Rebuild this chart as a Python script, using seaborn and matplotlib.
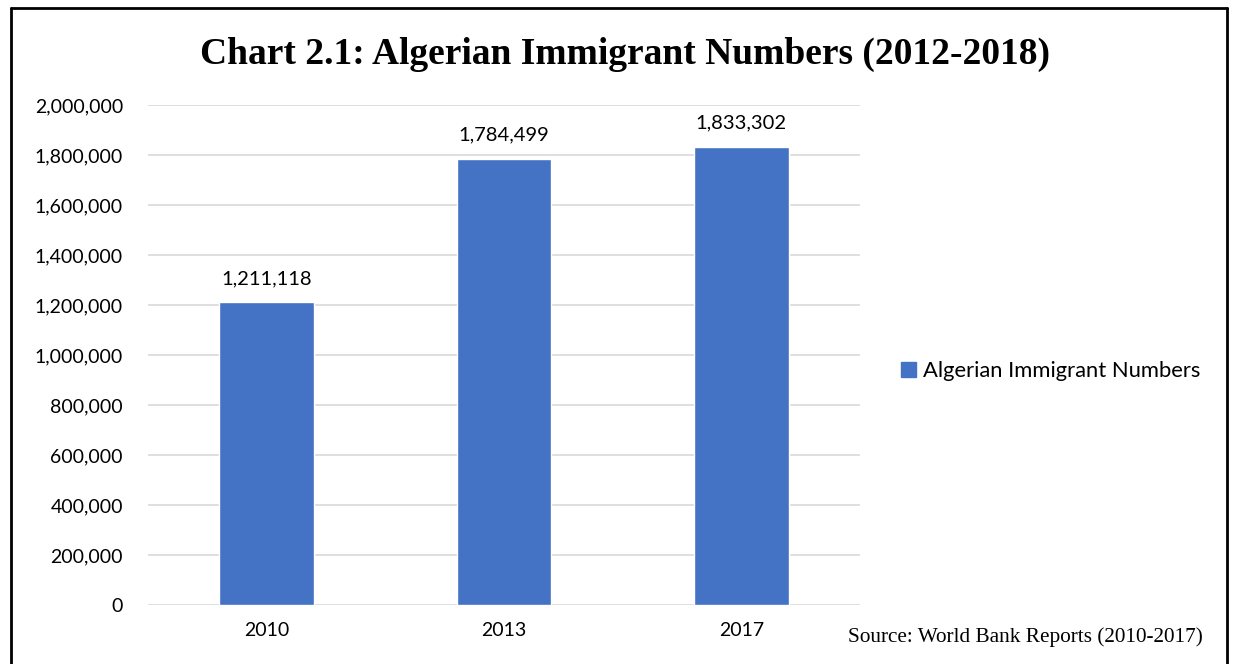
import matplotlib.pyplot as plt
import pandas as pd
import seaborn as sns
from matplotlib.ticker import FuncFormatter, MultipleLocator
from matplotlib.lines import Line2D
from matplotlib.patches import Patch

# data
years = ["2010", "2013", "2017"]
immigrants = [1211118, 1784499, 1833302]
series_name = "Algerian Immigrant Numbers"

df = pd.DataFrame({"year": years, "count": immigrants})

sns.set_theme(style="white")
plt.rcParams["font.family"] = ["Lato", "DejaVu Sans"]
plt.rcParams["text.color"] = "black"

fig = plt.figure(figsize=(12.33, 6.64), dpi=100)
ax = fig.add_axes([0.12, 0.0889, 0.5775, 0.753])

bar_color = "#4472C4"
sns.barplot(data=df, x="year", y="count", color=bar_color, width=0.4, ax=ax, saturation=1)

ax.set_ylim(0, 2000000)
ax.yaxis.set_major_locator(MultipleLocator(200000))
ax.yaxis.set_major_formatter(FuncFormatter(lambda v, p: f"{int(v):,}"))
ax.grid(axis="y", color="#d9d9d9", linewidth=1.2)
ax.set_axisbelow(True)
for s in ax.spines.values():
    s.set_visible(False)
ax.tick_params(axis="both", length=0, labelsize=14, colors="black")
ax.tick_params(axis="y", pad=18)
ax.tick_params(axis="x", pad=12)
ax.set_xlabel("")
ax.set_ylabel("")

# value labels
for cont in ax.containers:
    ax.bar_label(cont, labels=[f"{v:,}" for v in immigrants], padding=11, fontsize=14.5,
                 color="black")

# legend
ax.legend(handles=[Patch(color=bar_color, label=series_name)], loc="center left",
          bbox_to_anchor=(1.03, 0.468), frameon=False, fontsize=15.8,
          handlelength=0.7, handleheight=0.7, handletextpad=0.3)

fig.text(0.507, 0.918, "Chart 2.1: Algerian Immigrant Numbers (2012-2018)",
         ha="center", va="center", fontsize=27, fontweight="bold",
         family="Liberation Serif", color="black")
fig.text(0.688, 0.041, "Source: World Bank Reports (2010-2017)", ha="left",
         va="center", fontsize=15.3, family="Liberation Serif", color="black")

# border
for xs, ys in [([0.009, 0.009], [0, 0.988]), ([0.009, 0.995], [0.988, 0.988]),
               ([0.995, 0.995], [0, 0.988])]:
    fig.add_artist(Line2D(xs, ys, color="black", linewidth=2, transform=fig.transFigure))

plt.savefig("out.png", dpi=100)
plt.close()
